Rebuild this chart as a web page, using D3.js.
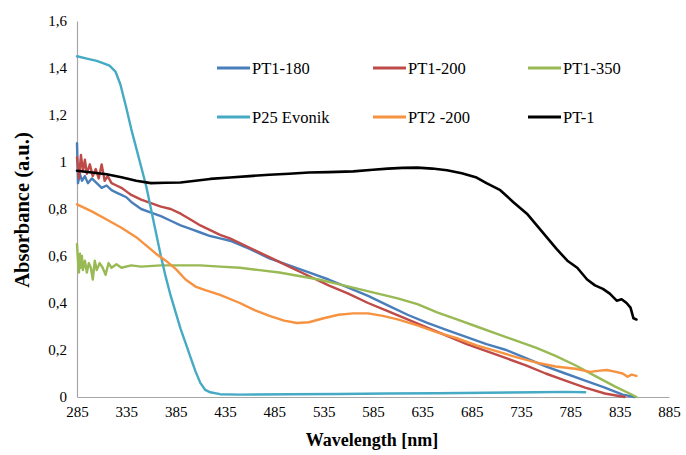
<!DOCTYPE html>
<html>
<head>
<meta charset="utf-8">
<script src="https://cdn.jsdelivr.net/npm/d3@7"></script>
<style>
  body { margin: 0; background: #fff; }
</style>
</head>
<body>
<div class="container"></div>
<script>
// x ticks and y ticks as on the original chart
var xTicks = [285, 335, 385, 435, 485, 535, 585, 635, 685, 735, 785, 835, 885];
var yTicks = [0, 0.2, 0.4, 0.6, 0.8, 1, 1.2, 1.4, 1.6];

var seriesNames = ["PT1-180", "PT1-200", "PT1-350", "P25 Evonik", "PT2 -200", "PT-1"];
var seriesColors = ["#4a7ebb", "#be4b48", "#98b954", "#46aac5", "#f69240", "#000000"];

// [wavelength nm, absorbance]
var pt1_180 = [[285,1.08],[286,0.91],[288,0.95],[290,0.92],[293,0.94],[296,0.91],[300,0.93],[305,0.91],[310,0.89],[315,0.90],[320,0.88],[325,0.87],[330,0.86],[335,0.85],[340,0.83],[350,0.80],[360,0.785],[370,0.77],[380,0.75],[390,0.73],[400,0.715],[410,0.70],[420,0.685],[430,0.675],[440,0.665],[460,0.63],[480,0.59],[500,0.56],[520,0.53],[540,0.50],[560,0.465],[580,0.43],[600,0.39],[620,0.35],[640,0.315],[660,0.285],[680,0.255],[700,0.225],[720,0.20],[740,0.165],[760,0.13],[780,0.10],[800,0.07],[820,0.04],[838,0.01],[850,0.0]];

var pt1_200 = [[285,1.02],[287,0.93],[289,1.03],[291,0.96],[293,1.01],[295,0.95],[298,0.99],[301,0.94],[304,0.97],[307,0.93],[310,0.99],[313,0.92],[316,0.94],[320,0.91],[325,0.90],[330,0.89],[335,0.875],[340,0.86],[350,0.84],[360,0.825],[370,0.81],[380,0.80],[390,0.78],[400,0.755],[410,0.73],[420,0.71],[430,0.69],[440,0.675],[460,0.635],[480,0.595],[500,0.555],[520,0.515],[540,0.475],[560,0.44],[580,0.40],[600,0.365],[620,0.33],[640,0.295],[660,0.26],[680,0.225],[700,0.195],[720,0.165],[740,0.135],[760,0.10],[780,0.07],[800,0.04],[820,0.015],[840,0.0]];

var pt1_350 = [[285,0.65],[286,0.58],[287,0.53],[288,0.61],[289,0.55],[290,0.60],[291,0.54],[293,0.58],[295,0.53],[297,0.57],[299,0.55],[301,0.50],[303,0.58],[305,0.54],[308,0.57],[311,0.55],[314,0.52],[317,0.57],[320,0.55],[325,0.565],[330,0.55],[340,0.56],[350,0.555],[370,0.56],[390,0.56],[410,0.56],[430,0.555],[450,0.55],[470,0.54],[490,0.53],[510,0.515],[530,0.50],[550,0.48],[570,0.46],[590,0.44],[610,0.42],[630,0.395],[650,0.36],[670,0.33],[690,0.30],[710,0.27],[730,0.24],[750,0.21],[770,0.175],[790,0.135],[810,0.09],[830,0.045],[845,0.015],[852,0.0]];

var p25 = [[285,1.45],[295,1.44],[305,1.43],[312,1.42],[318,1.41],[324,1.385],[329,1.33],[335,1.23],[340,1.14],[345,1.06],[350,0.98],[355,0.90],[360,0.80],[365,0.70],[370,0.60],[375,0.51],[380,0.43],[385,0.36],[390,0.29],[395,0.23],[400,0.17],[405,0.11],[410,0.06],[415,0.03],[420,0.02],[430,0.012],[450,0.01],[500,0.012],[550,0.013],[600,0.015],[650,0.016],[700,0.018],[750,0.02],[780,0.022],[800,0.02]];

var pt2_200 = [[285,0.82],[300,0.79],[315,0.755],[330,0.72],[345,0.68],[355,0.645],[365,0.61],[375,0.58],[385,0.545],[395,0.50],[405,0.47],[415,0.455],[430,0.435],[450,0.40],[465,0.37],[480,0.345],[495,0.325],[508,0.315],[520,0.318],[535,0.335],[550,0.35],[565,0.356],[580,0.356],[595,0.345],[610,0.33],[630,0.305],[650,0.275],[670,0.25],[690,0.22],[710,0.195],[730,0.17],[750,0.147],[770,0.13],[790,0.12],[805,0.107],[815,0.112],[822,0.115],[830,0.108],[838,0.10],[843,0.086],[847,0.095],[852,0.09]];

var pt_1 = [[285,0.963],[300,0.955],[315,0.948],[330,0.935],[345,0.92],[360,0.91],[375,0.912],[390,0.913],[405,0.92],[420,0.928],[440,0.934],[460,0.94],[480,0.946],[500,0.95],[520,0.955],[540,0.957],[565,0.96],[585,0.967],[600,0.972],[615,0.975],[630,0.976],[645,0.972],[660,0.965],[675,0.952],[690,0.934],[700,0.91],[714,0.88],[727,0.83],[741,0.78],[751,0.73],[761,0.68],[771,0.63],[782,0.58],[792,0.55],[802,0.50],[810,0.475],[818,0.46],[825,0.44],[832,0.41],[837,0.416],[842,0.40],[846,0.38],[849,0.335],[852,0.33]];

var seriesData = [pt1_180, pt1_200, pt1_350, p25, pt2_200, pt_1];

const width = 686, height = 455;
const margin = {left: 77, right: 17, top: 21, bottom: 58};
const serif = '"Liberation Serif"';

const x = d3.scaleLinear().domain([285, 885]).range([margin.left, width - margin.right]);
const y = d3.scaleLinear().domain([0, 1.6]).range([height - margin.bottom, margin.top]);

const svg = d3.select('.container')
  .append('svg')
  .attr('width', width)
  .attr('height', height);

const comma = v => d3.format('')(+v.toFixed(1)).replace('.', ',');

// y axis
svg.append('g')
  .attr('transform', 'translate(' + margin.left + ',0)')
  .call(d3.axisLeft(y).tickValues(yTicks).tickSize(0).tickPadding(10).tickFormat(comma))
  .call(g => g.select('.domain').attr('stroke', '#a6a6a6').attr('stroke-width', 1.2))
  .call(g => g.selectAll('text').attr('font-size', 15).attr('fill', '#000')
    .style('font-family', serif));

// x axis
svg.append('g')
  .attr('transform', 'translate(0,' + (height - margin.bottom) + ')')
  .call(d3.axisBottom(x).tickValues(xTicks).tickSize(0).tickPadding(9).tickFormat(d3.format('d')))
  .call(g => g.select('.domain').attr('stroke', '#a6a6a6').attr('stroke-width', 1.2))
  .call(g => g.selectAll('text').attr('font-size', 15).attr('fill', '#000')
    .style('font-family', serif));

// axis titles
svg.append('text')
  .attr('x', 372).attr('y', 446)
  .attr('text-anchor', 'middle')
  .attr('font-size', 18).attr('font-weight', 'bold')
  .style('font-family', serif)
  .text('Wavelength [nm]');

svg.append('text')
  .attr('transform', 'translate(29,210) rotate(-90)')
  .attr('text-anchor', 'middle')
  .attr('font-size', 20.5).attr('font-weight', 'bold')
  .style('font-family', serif)
  .text('Absorbance (a.u.)');

// lines
const line = d3.line().x(d => x(d[0])).y(d => y(d[1]));

svg.append('g')
  .attr('fill', 'none')
  .attr('stroke-linejoin', 'round')
  .attr('stroke-linecap', 'round')
  .selectAll('path')
  .data(seriesData)
  .join('path')
  .attr('stroke', (d, i) => seriesColors[i])
  .attr('stroke-width', (d, i) => i == 5 ? 2.6 : 2.4)
  .attr('d', line);

// legend
const legX = [217, 373, 528], legY = [68, 117];
const leg = svg.append('g')
  .selectAll('g')
  .data(seriesNames)
  .join('g')
  .attr('transform', (d, i) => 'translate(' + legX[i % 3] + ',' + legY[Math.floor(i / 3)] + ')');

leg.append('line')
  .attr('x1', 0).attr('x2', 33)
  .attr('stroke', (d, i) => seriesColors[i])
  .attr('stroke-width', 3);

leg.append('text')
  .attr('x', 35).attr('dy', '0.35em')
  .attr('font-size', 16.5)
  .style('font-family', serif)
  .text(d => d);
</script>
</body>
</html>
